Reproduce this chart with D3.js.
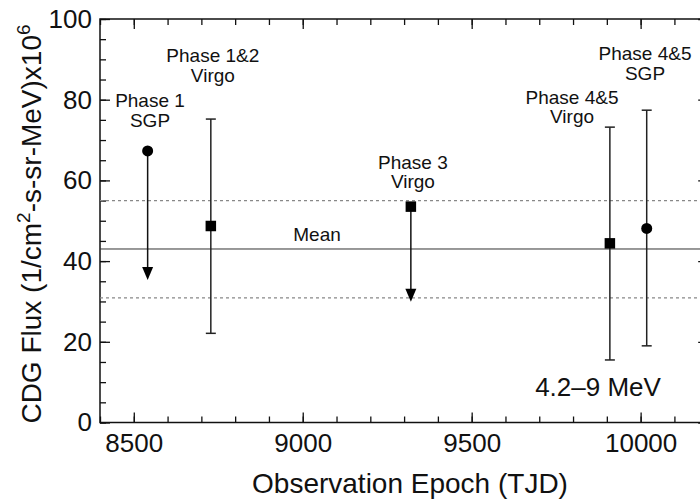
<!DOCTYPE html>
<html>
<head>
<meta charset="utf-8">
<script src="https://cdn.jsdelivr.net/npm/d3@7"></script>
<style>
  html, body { margin: 0; padding: 0; background: #fff; }
  svg { display: block; font-family: "Liberation Sans", Arial, Helvetica, sans-serif; }
</style>
</head>
<body>
<svg id="chart" width="700" height="504"></svg>
<script>
// ---- Data ----
const labelLine1 = ["Phase 1", "Phase 1&2", "Phase 3", "Phase 4&5", "Phase 4&5"];
const labelLine2 = ["SGP", "Virgo", "Virgo", "Virgo", "SGP"];
const epochTJD   = [8541, 8728, 9320, 9909, 10018];
const fluxValue  = [67.3, 48.7, 53.5, 44.4, 48.1];
const errLow     = [null, 22.1, null, 15.5, 19.0];
const errHigh    = [null, 75.2, null, 73.2, 77.4];
const upperLimitTip = [35.3, null, 29.9, null, null];
const markerShape = ["circle", "square", "square", "square", "circle"];
// label anchor (data units): centre epoch and baseline flux of the 2nd line
const labelEpoch = [8548, 8734, 9326, 9797, 10013];
const labelFlux  = [73.3, 84.4, 58.1, 74.2, 84.9];

const meanFlux = 43.0;
const bandLow = 30.9;
const bandHigh = 55.0;

const xTicksMajor = [8500, 9000, 9500, 10000];
const xTicksMinor = d3.range(8400, 10201, 100);
const yTicksMajor = [0, 20, 40, 60, 80, 100];
const yTicksMinor = d3.range(0, 101, 5);

const xTitle = "Observation Epoch (TJD)";
const energyLabel = "4.2\u20139 MeV";

// ---- Layout ----
const svg = d3.select("#chart");
const L = 100, R = 708.2, T = 19, B = 422.5;
const x = d3.scaleLinear().domain([8400, 10200]).range([L, R]);
const y = d3.scaleLinear().domain([0, 100]).range([B, T]);

const axisColor = "#111";
const fontTick = 26;

function styleAxis(g) {
  g.select(".domain").remove();
  g.selectAll(".tick line").attr("stroke", axisColor).attr("stroke-width", 1.3);
  g.selectAll(".tick text").attr("fill", "#111").attr("font-size", fontTick)
    .attr("font-family", "'Liberation Sans', Arial, Helvetica, sans-serif");
}

// minor ticks
svg.append("g").attr("transform", `translate(0,${B})`)
  .call(d3.axisBottom(x).tickValues(xTicksMinor).tickSize(-6).tickFormat("")).call(styleAxis);
svg.append("g").attr("transform", `translate(0,${T})`)
  .call(d3.axisTop(x).tickValues(xTicksMinor).tickSize(-6).tickFormat("")).call(styleAxis);
svg.append("g").attr("transform", `translate(${L},0)`)
  .call(d3.axisLeft(y).tickValues(yTicksMinor).tickSize(-6).tickFormat("")).call(styleAxis);
svg.append("g").attr("transform", `translate(${R},0)`)
  .call(d3.axisRight(y).tickValues(yTicksMinor).tickSize(-6).tickFormat("")).call(styleAxis);

// major ticks
svg.append("g").attr("transform", `translate(0,${B})`)
  .call(d3.axisBottom(x).tickValues(xTicksMajor).tickSize(-10).tickPadding(11).tickFormat(d3.format("d"))).call(styleAxis);
svg.append("g").attr("transform", `translate(0,${T})`)
  .call(d3.axisTop(x).tickValues(xTicksMajor).tickSize(-10).tickFormat("")).call(styleAxis);
svg.append("g").attr("transform", `translate(${L},0)`)
  .call(d3.axisLeft(y).tickValues(yTicksMajor).tickSize(-10).tickPadding(8).tickFormat(d3.format("d"))).call(styleAxis);
svg.append("g").attr("transform", `translate(${R},0)`)
  .call(d3.axisRight(y).tickValues(yTicksMajor).tickSize(-10).tickFormat("")).call(styleAxis);

// frame
svg.append("rect").attr("x", L).attr("y", T).attr("width", R - L).attr("height", B - T)
  .attr("fill", "none").attr("stroke", axisColor).attr("stroke-width", 1.5);

// mean & band lines
svg.append("line").attr("x1", L).attr("x2", R).attr("y1", y(meanFlux)).attr("y2", y(meanFlux))
  .attr("stroke", "#333").attr("stroke-width", 1);
[bandLow, bandHigh].forEach(v => {
  svg.append("line").attr("x1", L).attr("x2", R).attr("y1", y(v)).attr("y2", y(v))
    .attr("stroke", "#888").attr("stroke-width", 1.2).attr("stroke-dasharray", "3,3");
});
svg.append("text").attr("x", 317).attr("y", y(meanFlux) - 7.5)
  .attr("text-anchor", "middle").attr("font-size", 19).attr("fill", "#111").text("Mean");

// points
const data = epochTJD.map((e, i) => ({
  e, v: fluxValue[i], lo: errLow[i], hi: errHigh[i], lim: upperLimitTip[i], shape: markerShape[i],
  l1: labelLine1[i], l2: labelLine2[i], le: labelEpoch[i], lf: labelFlux[i]
}));

const cap = 5;
data.forEach(d => {
  const cx = x(d.e), cy = y(d.v);
  if (d.lo != null) {
    svg.append("line").attr("x1", cx).attr("x2", cx).attr("y1", y(d.hi)).attr("y2", y(d.lo))
      .attr("stroke", "#222").attr("stroke-width", 1.5);
    [d.hi, d.lo].forEach(v => svg.append("line").attr("x1", cx - cap).attr("x2", cx + cap)
      .attr("y1", y(v)).attr("y2", y(v)).attr("stroke", "#222").attr("stroke-width", 1.5));
  }
  if (d.lim != null) {
    const tip = y(d.lim), hh = 13, hw = 5.5;
    svg.append("line").attr("x1", cx).attr("x2", cx).attr("y1", cy).attr("y2", tip - hh + 1)
      .attr("stroke", "#111").attr("stroke-width", 1.5);
    svg.append("path").attr("d", `M${cx - hw},${tip - hh}L${cx + hw},${tip - hh}L${cx},${tip}Z`)
      .attr("fill", "#000");
  }
  if (d.shape === "circle") {
    svg.append("circle").attr("cx", cx).attr("cy", cy).attr("r", 5.5).attr("fill", "#000");
  } else {
    const s = 10.5;
    svg.append("rect").attr("x", cx - s / 2).attr("y", cy - s / 2).attr("width", s).attr("height", s).attr("fill", "#000");
  }
  const t = svg.append("text").attr("text-anchor", "middle").attr("font-size", 19).attr("fill", "#111");
  t.append("tspan").attr("x", x(d.le)).attr("y", y(d.lf) - 19.5).text(d.l1);
  t.append("tspan").attr("x", x(d.le)).attr("y", y(d.lf)).text(d.l2);
});

// energy label
svg.append("text").attr("x", 598).attr("y", 396).attr("text-anchor", "middle")
  .attr("font-size", 26).attr("fill", "#111").text(energyLabel);

// axis titles
svg.append("text").attr("x", 410).attr("y", 493).attr("text-anchor", "middle")
  .attr("font-size", 28).attr("fill", "#111").text(xTitle);

const yt = svg.append("text").attr("transform", `translate(41,224) rotate(-90)`)
  .attr("text-anchor", "middle").attr("font-size", 28).attr("fill", "#111");
yt.append("tspan").text("CDG Flux (1/cm");
yt.append("tspan").attr("dy", -11).attr("font-size", 19).text("2");
yt.append("tspan").attr("dy", 11).text("-s-sr-MeV)x10");
yt.append("tspan").attr("dy", -11).attr("font-size", 19).text("6");
</script>
</body>
</html>
